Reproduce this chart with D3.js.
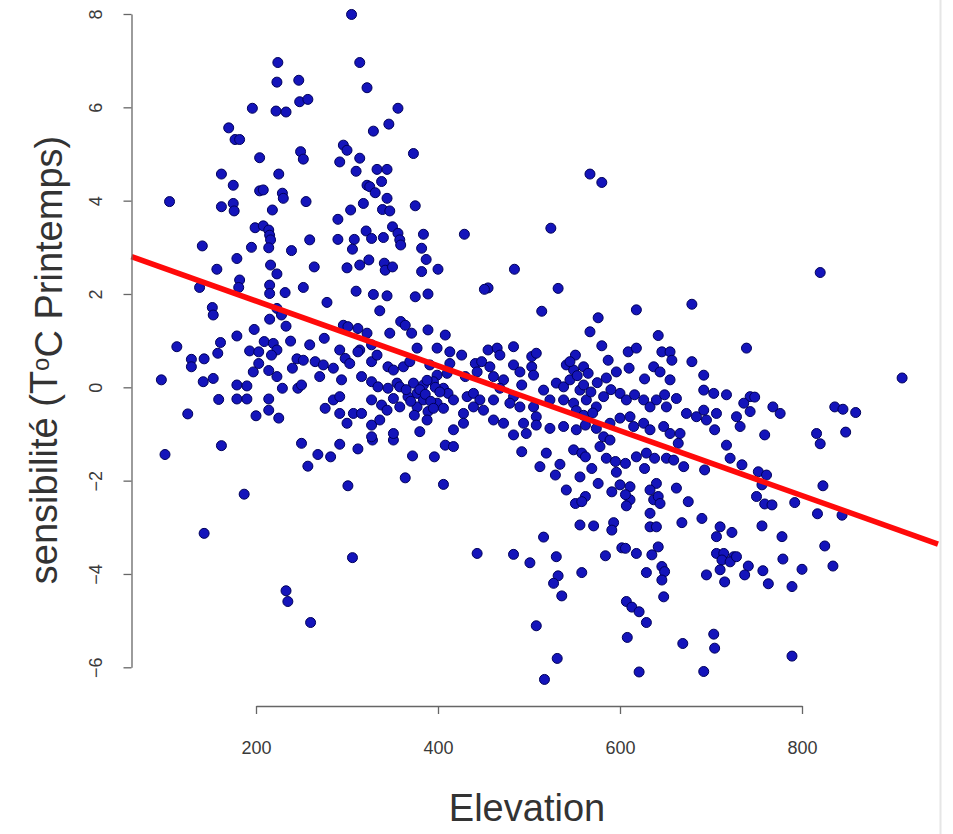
<!DOCTYPE html>
<html>
<head>
<meta charset="utf-8">
<script src="https://cdn.jsdelivr.net/npm/d3@7"></script>
<style>
body { margin: 0; background: #fff; }
svg { display: block; font-family: "Liberation Sans", Arial, sans-serif; }
</style>
</head>
<body>
<svg></svg>
<script>
// elevation (m) and spring temperature sensitivity, one entry per station
var elevation = [
  305,224,314,223,247,322,196,222,233,248,257,356,170,177,182,346,329,204,249,252,
  296,300,292,314,373,162,225,175,310,333,344,338,322,325,331,204,208,229,230,105,
  162,175,176,218,255,304,318,344,339,347,375,290,199,208,214,215,216,214,259,290,
  308,306,321,327,340,350,356,358,359,384,382,195,239,141,179,216,223,157,264,300,
  314,324,341,342,350,382,387,400,182,181,138,215,215,232,252,278,310,329,344,375,
  389,
  296,301,312,322,359,364,347,371,389,408,259,275,336,
  152,153,223,228,215,233,179,198,113,161,158,129,129,143,96,142,153,159,125,100,
  162,187,143,193,209,219,223,238,203,217,203,197,214,223,179,190,179,190,229,214,
  214,200,225,245,240,246,
  250,268,282,257,292,312,301,328,351,372,396,364,406,408,417,306,233,235,260,
  292,314,327,377,399,413,426,441,455,465,468,483,503,508,252,265,274,285,298,303,
  312,327,333,345,351,362,369,391,399,410,413,430,443,448,457,461,472,483,490,503,
  505,250,270,294,316,327,334,345,355,358,373,377,384,395,406,411,432,439,446,461,
  468,483,492,276,285,292,292,307,316,327,338,344,351,358,367,377,384,389,399,406,
  417,428,439,450,461,472,479,490,505,508,300,327,336,351,380,388,417,428,483,494,
  497,327,492,
  380,386,392,397,402,370,365,388,395,374,
  514,576,618,679,567,642,580,609,618,646,655,657,679,739,551,541,549,560,565,587,
  596,610,637,644,655,627,692,530,538,545,556,516,523,538,549,563,574,582,600,607,
  616,626,633,640,649,651,662,673,684,508,523,538,552,562,574,589,600,611,615,626,
  633,648,655,666,664,582,589,549,558,562,519,578,585,595,606,618,629,638,651,659,
  670,512,534,529,556,569,596,627,541,562,576,591,600,611,640,662,
  545,553,560,568,575,552,560,570,585,590,
  611,606,607,633,637,642,644,551,558,633,675,668,556,571,593,591,633,640,516,443,
  483,501,530,558,584,602,606,618,635,642,629,646,649,646,648,532,527,536,607,613,
  621,629,508,608,531,517,621,669,
  910,836,845,859,816,820,848,823,792,817,844,825,834,800,789,789,692,703,717,743,
  748,736,743,692,706,695,704,728,732,768,776,759,717,721,734,693,752,761,756,750,
  759,767,690,756,710,723,778,706,706,714,712,725,721,728,710,695,741,737,757,779,
  763,715,703,704,692,
  820,524,567,580,429,484,455,451,532
];
var sensibilite = [
  7.99,6.96,6.96,6.54,6.58,6.42,5.98,5.92,5.90,6.12,6.17,5.98,5.56,5.31,5.31,5.64,5.49,4.92,5.05,4.89,
  5.19,5.08,4.83,4.91,5.01,4.57,4.57,4.33,4.63,4.67,4.67,4.41,4.33,4.30,4.17,4.21,4.23,4.16,4.05,3.98,
  3.87,3.94,3.78,3.80,3.98,3.80,3.94,4.05,3.81,3.78,3.89,3.60,3.42,3.46,3.37,3.26,3.16,2.99,3.16,3.17,
  3.17,2.96,3.35,3.19,3.21,3.44,3.30,3.16,3.05,3.28,2.98,3.00,2.93,3.03,2.76,2.62,2.43,2.53,2.58,2.56,
  2.62,2.73,2.66,2.51,2.58,2.48,2.74,2.53,2.30,2.14,2.14,2.19,2.01,2.03,2.14,1.82,2.06,1.99,1.96,1.94,
  2.00,
  1.33,1.30,1.26,1.16,1.41,1.33,1.16,1.16,1.23,1.12,0.91,1.05,1.64,
  1.71,1.55,1.69,1.55,1.46,1.31,1.10,1.24,0.87,0.96,0.73,0.60,0.44,0.61,0.16,0.12,0.19,-0.26,-0.57,-1.44,
  -1.25,-2.29,-3.13,0.78,0.98,0.94,0.80,0.99,0.76,0.69,0.51,0.33,0.36,0.23,0.05,0.03,-0.25,-0.25,-0.02,-0.25,
  -0.49,-0.61,-0.66,0.61,0.41,-0.02,
  -1.20,-1.44,-1.49,-1.69,-1.22,-1.32,-2.11,-1.13,-1.13,-1.47,-1.49,-1.94,-2.08,-1.24,-1.27,-3.65,-4.36,-4.59,-5.04,
  0.80,0.80,0.91,0.84,0.84,0.76,0.69,0.51,0.80,0.84,0.69,0.87,0.66,0.73,0.58,0.55,0.48,0.41,0.62,0.51,
  0.76,0.55,0.69,0.44,0.37,0.44,0.55,0.48,0.26,0.30,0.51,0.23,0.33,0.55,0.44,0.23,0.16,0.48,0.33,0.44,
  0.26,0.05,0.23,0.16,0.23,0.12,0.01,-0.02,0.09,0.01,0.09,-0.13,0.05,0.12,-0.02,-0.13,-0.20,-0.13,-0.27,-0.27,
  -0.02,-0.20,0.05,-0.45,-0.27,-0.20,-0.56,-0.56,-0.56,-0.27,-0.38,-0.49,-0.24,-0.42,-0.20,-0.42,-0.27,-0.52,-0.34,-0.45,
  -0.27,-0.56,-0.42,-0.49,-0.70,-0.77,-0.34,-0.42,-0.42,-0.63,-0.77,-0.81,-0.70,-0.99,-0.95,-0.70,-0.91,-0.77,-1.02,-0.77,
  -0.99,-1.06,-1.38,
  -0.05,-0.15,-0.30,0.00,-0.10,-0.30,-0.05,0.15,-0.45,-0.60,
  1.63,1.49,1.66,1.78,1.19,1.11,0.89,0.76,0.84,0.76,0.76,0.58,0.55,0.84,0.69,0.48,0.37,0.44,0.30,0.58,
  0.33,0.41,0.44,0.33,0.16,0.18,0.26,0.09,0.01,0.16,-0.06,-0.06,-0.27,-0.27,-0.34,-0.27,-0.42,-0.20,-0.13,-0.27,
  -0.16,-0.27,-0.42,-0.27,-0.16,-0.42,-0.24,-0.56,-0.63,-0.81,-0.88,-0.84,-0.91,-0.81,-0.88,-0.77,-0.66,-0.63,-0.84,-0.77,
  -0.91,-0.84,-0.99,-0.99,-1.20,-1.06,-1.13,-1.34,-1.41,-1.49,-1.41,-1.27,-1.52,-1.59,-1.63,-1.49,-1.41,-1.52,-1.52,-1.56,
  -1.70,-1.70,-1.65,-1.88,-1.92,-1.74,-1.82,-1.74,-2.20,-2.34,-2.06,-2.24,-2.09,-2.13,-2.06,-2.16,
  0.55,0.25,0.05,-0.10,0.10,-0.50,-0.60,-0.55,0.20,-0.05,
  -2.41,-2.30,-2.54,-2.20,-2.41,-2.34,-2.49,-2.49,-2.45,-2.70,-2.45,-2.90,-2.95,-2.97,-2.90,-3.06,-2.99,-2.99,-3.21,-3.56,
  -3.58,-3.76,-3.63,-3.97,-3.61,-3.44,-3.45,-3.56,-3.59,-3.42,-3.97,-3.84,-3.95,-4.13,-4.49,-4.04,-4.20,-4.47,-4.59,-4.71,
  -4.81,-5.04,-5.11,-5.36,-5.81,-6.26,-6.10,-5.49,
  0.20,-0.42,-0.47,-0.54,-0.99,-1.21,-0.96,-2.11,-2.47,-2.71,-2.74,-3.40,-3.83,-3.90,-4.27,-5.76,-0.06,-0.13,-0.16,-0.20,
  -0.21,-0.34,-0.52,-0.49,-0.56,-0.70,-0.91,-0.63,-0.84,-0.42,-0.56,-1.02,-1.24,-1.52,-1.66,-1.77,-1.81,-1.88,-2.09,-2.34,
  -2.50,-2.52,-2.81,-2.97,-2.99,-3.11,-3.20,-3.20,-3.56,-3.56,-3.70,-3.63,-3.74,-3.63,-3.91,-4.02,-3.83,-4.02,-3.93,-3.68,
  -4.21,-4.17,-5.29,-5.59,-6.09,
  2.46,3.41,4.57,4.39,3.28,2.53,2.13,2.10,2.12
];
var xTicks = [200, 400, 600, 800];
var yTicks = [-6, -4, -2, 0, 2, 4, 6, 8];
// linear fit drawn in red
var fitIntercept = 3.24;
var fitSlope = -0.00695;

var svgWidth = 953;
var svgHeight = 834;

var svg = d3.select("svg")
    .attr("width", svgWidth)
    .attr("height", svgHeight);

var x = d3.scaleLinear().domain([200, 800]).range([256, 802]);
var y = d3.scaleLinear().domain([-6, 8]).range([667.3, 14]);

// plot region edges (left one is where the y axis sits)
var plotLeft = 131.5;
var plotRight = 938;
var axisY = 706;

// thin border on the right side of the picture
svg.append("line")
  .attr("x1", 940.5).attr("x2", 940.5)
  .attr("y1", 0).attr("y2", svgHeight)
  .attr("stroke", "#e6e6e6")
  .attr("stroke-width", 2);

svg.selectAll("circle")
  .data(d3.range(elevation.length))
  .enter()
  .append("circle")
  .attr("cx", function(i) { return x(elevation[i]); })
  .attr("cy", function(i) { return y(sensibilite[i]); })
  .attr("r", 5)
  .attr("fill", "#1414bb")
  .attr("stroke", "#00005a")
  .attr("stroke-width", 1);

var fitEnds = [x.invert(plotLeft), x.invert(plotRight)];
svg.append("line")
  .attr("x1", x(fitEnds[0]))
  .attr("y1", y(fitIntercept + fitSlope * fitEnds[0]))
  .attr("x2", x(fitEnds[1]))
  .attr("y2", y(fitIntercept + fitSlope * fitEnds[1]))
  .attr("stroke", "#ff0a0a")
  .attr("stroke-width", 5.5);

var xAxis = svg.append("g")
  .attr("transform", "translate(0," + axisY + ")")
  .call(d3.axisBottom(x).tickValues(xTicks).tickSize(8).tickSizeOuter(0).tickPadding(27));

var yAxis = svg.append("g")
  .attr("transform", "translate(" + plotLeft + ",0)")
  .call(d3.axisLeft(y).tickValues(yTicks).tickSize(8).tickSizeOuter(0));

[xAxis, yAxis].forEach(function(g) {
  g.select(".domain").attr("stroke", "#666").attr("stroke-width", 1.3);
  g.selectAll(".tick line").attr("stroke", "#666").attr("stroke-width", 1.3);
  g.selectAll(".tick text").attr("fill", "#3a3a3a").style("font-family", "Liberation Sans, Arial, sans-serif");
});
xAxis.selectAll(".tick text").style("font-size", "18px");
yAxis.selectAll(".tick text")
  .style("font-size", "18px")
  .attr("x", 0)
  .attr("dy", 0)
  .attr("text-anchor", "middle")
  .attr("transform", "translate(-30,0) rotate(-90)");

svg.append("text")
  .attr("x", 527)
  .attr("y", 821)
  .attr("text-anchor", "middle")
  .attr("fill", "#333")
  .style("font-size", "38px")
  .text("Elevation");

var yLabel = svg.append("text")
  .attr("transform", "translate(57,360) rotate(-90)")
  .attr("text-anchor", "middle")
  .attr("fill", "#333")
  .style("font-size", "38px");
yLabel.append("tspan").text("sensibilité (T");
yLabel.append("tspan").attr("dy", "-0.35em").style("font-size", "24px").text("o");
yLabel.append("tspan").attr("dy", "0.35em").text("C Printemps)");
</script>
</body>
</html>
